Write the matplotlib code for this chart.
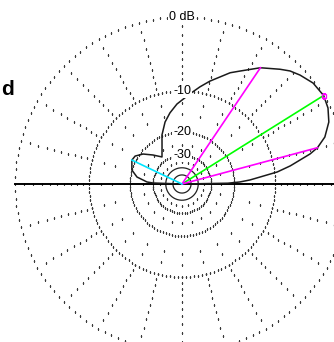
import numpy as np
import matplotlib
matplotlib.use("Agg")
import matplotlib.pyplot as plt

# elevation pattern (degrees above horizon, gain in dB relative to max)
elev_deg = [0, 1, 2, 3.4, 5.1, 7.2, 9.5, 11.5, 13.2, 15, 18.2, 22.9, 27.5,
            32, 37.6, 42.7, 46.3, 49.5, 56, 62.8, 66.6, 70.4, 74.8, 79.5,
            84.9, 93.6, 99.6, 105.3, 112.2, 118.4, 126.5, 135, 142.4, 149.2,
            154.5, 164.4, 171.2, 176.7, 178, 180]
gain_db = [-99, -22.2, -18.2, -15.4, -13.0, -9.5, -7.2, -5.6, -4.1, -3.0,
           -1.8, -0.8, -0.25, 0.0, -0.16, -0.67, -1.13, -1.74, -3.0, -4.7,
           -5.5, -6.6, -7.7, -9.0, -10.5, -12.6, -14.4, -16.4, -19.7, -23.7,
           -27.5, -24.1, -21.0, -19.2, -18.9, -20.0, -22.3, -26.8, -30.0, -99]

# cursor lines: main lobe, -3 dB points, back lobe
max_angle, max_gain = 32, 0.0
half_power_angles = [15, 56]
half_power_gain = -3.0
back_angle, back_gain = 154.5, -18.9

ring_db = [0, -10, -20, -30]
ring_labels = ["0 dB", "-10", "-20", "-30"]
small_ring_db = [-40, -50]
spoke_dot_db = [-1, -2, -3, -4, -5, -6, -7, -8, -9, -10, -12.5, -15, -25, -35]


def arrl(db):
    """ARRL log scale: radius shrinks by 0.89 every 2 dB."""
    return 0.89 ** (-np.asarray(db, dtype=float) / 2.0)


W, H, DPI = 334, 342, 100
cx, cy = 182, 184          # centre of the plot in pixels (from top-left)
R_PX = 167                 # pixels for 0 dB
RMAX = 1.08

fig = plt.figure(figsize=(W / DPI, H / DPI), dpi=DPI)
half = R_PX * RMAX
ax = fig.add_axes([(cx - half) / W, (H - cy - half) / H, 2 * half / W, 2 * half / H],
                  projection="polar")
ax.set_ylim(0, RMAX)
ax.set_axis_off()

dot_kw = dict(ls="none", marker="s", ms=1.0, color="#3a3a3a", mew=0)

# dotted rings
for db, step in zip(ring_db, [2.5, 2.5, 3.4, 5.0]):
    th = np.radians(np.arange(0, 360, step))
    ax.plot(th, np.full_like(th, arrl(db)), **dot_kw)
for db in small_ring_db:
    th = np.linspace(0, 2 * np.pi, 200)
    ax.plot(th, np.full_like(th, arrl(db)), color="#222222", lw=0.9)

# dotted spokes every 15 degrees
for a in range(0, 360, 15):
    r = arrl(spoke_dot_db)
    ax.plot(np.full_like(r, np.radians(a)), r, **dot_kw)

# horizon
ax.plot([np.pi, np.pi], [1.0, 0], color="black", lw=1.4)
ax.plot([0, 0], [0, RMAX], color="black", lw=1.4)

# pattern
ax.plot(np.radians(elev_deg), arrl(gain_db), color="#1a1a1a", lw=1.1)

# cursor lines
ax.plot([0, np.radians(max_angle)], [0, arrl(max_gain)], color="#00ff00", lw=1.2)
ax.plot([np.radians(max_angle)], [arrl(max_gain)], marker="s", ms=3.5,
        mfc="none", mec="#ff00ff", mew=0.9)
for a in half_power_angles:
    ax.plot([0, np.radians(a)], [0, arrl(half_power_gain)], color="#ff00ff", lw=1.2)
ax.plot([0, np.radians(back_angle)], [0, arrl(back_gain)], color="#00e5ff", lw=1.2)

# ring labels on the vertical spoke
for db, lab in zip(ring_db, ring_labels):
    ax.text(np.radians(90), arrl(db), lab, ha="center", va="center",
            fontsize=9, family="Liberation Sans", color="black",
            bbox=dict(facecolor="white", edgecolor="none", pad=0.6))

fig.text(1 / W, 1 - 95 / H, "d", fontsize=15, fontweight="bold",
         family="Liberation Sans", ha="left", va="baseline")

fig.savefig("out.png", dpi=DPI, facecolor="white")
